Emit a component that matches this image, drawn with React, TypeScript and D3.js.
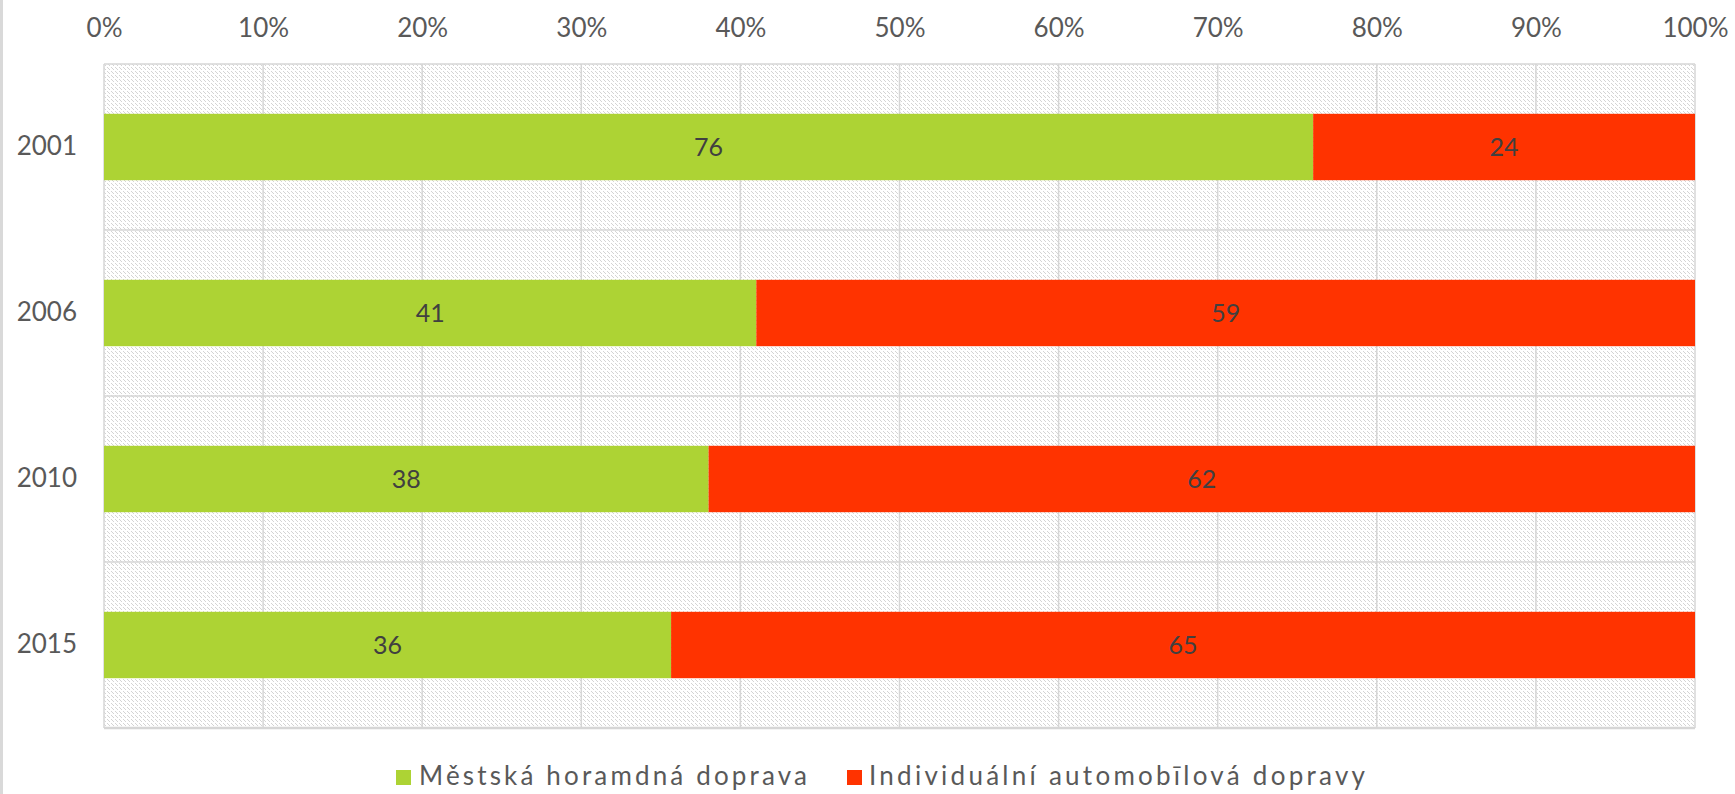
import React, { useEffect, useRef } from "react";
import * as d3 from "d3";

const years = ["2001", "2006", "2010", "2015"];
const mestska = [76, 41, 38, 36];
const individualni = [24, 59, 62, 65];
const seriesNames = ["Městská horamdná doprava", "Individuální automobīlová dopravy"];
const seriesColors = ["#add334", "#ff3300"];
const xTicks = [0, 0.1, 0.2, 0.3, 0.4, 0.5, 0.6, 0.7, 0.8, 0.9, 1];

export default function App() {
  const ref = useRef<SVGSVGElement | null>(null);

  useEffect(() => {
    const width = 1735,
      height = 794,
      left = 104,
      right = 1695,
      top = 64,
      bottom = 728;
    const font = "Lato, 'Open Sans', sans-serif";

    const svg = d3.select(ref.current).attr("width", width).attr("height", height);
    svg.selectAll("*").remove();

    // left grey strip of the frame
    svg.append("rect").attr("x", 0).attr("y", 0).attr("width", 3).attr("height", height).attr("fill", "#d9d9d9");

    // dotted diagonal background of the plot area
    const pat = svg.append("defs").append("pattern")
      .attr("id", "hatch")
      .attr("patternUnits", "userSpaceOnUse")
      .attr("width", 4)
      .attr("height", 4);
    pat.append("rect").attr("width", 4).attr("height", 4).attr("fill", "#ffffff");
    [0, 1, 3].forEach((i) => {
      pat.append("rect").attr("x", i).attr("y", i).attr("width", 1).attr("height", 1)
        .attr("fill", "#d4d4d4").attr("shape-rendering", "crispEdges");
    });

    const rows = years.map((y, i) => ({ year: y, a: mestska[i], b: individualni[i] }));
    const stacked = d3.stack<any>().keys(["a", "b"]).offset(d3.stackOffsetExpand)(rows);

    const x = d3.scaleLinear().domain([0, 1]).range([left, right]);
    const y = d3.scaleBand().domain(years).range([top, bottom]).paddingInner(0.6).paddingOuter(0.3);

    svg.append("rect")
      .attr("x", left).attr("y", top)
      .attr("width", right - left).attr("height", bottom - top)
      .attr("fill", "url(#hatch)");

    // grid
    const grid = svg.append("g").attr("stroke", "#d6d6d6").attr("stroke-width", 1.5);
    grid.selectAll("line.v").data(xTicks).enter().append("line")
      .attr("x1", (d) => x(d)).attr("x2", (d) => x(d))
      .attr("y1", top).attr("y2", bottom);
    grid.selectAll("line.h").data(d3.range(years.length + 1)).enter().append("line")
      .attr("x1", left).attr("x2", right)
      .attr("y1", (k) => top + k * y.step()).attr("y2", (k) => top + k * y.step())
      .attr("stroke-width", (k) => (k === years.length ? 2.5 : 1.5));

    // bars
    const layers = svg.append("g").selectAll("g").data(stacked).enter().append("g")
      .attr("fill", (d, i) => seriesColors[i]);
    layers.selectAll("rect").data((d) => d).enter().append("rect")
      .attr("x", (d) => x(d[0]))
      .attr("width", (d) => x(d[1]) - x(d[0]))
      .attr("y", (d) => y(d.data.year) as number)
      .attr("height", y.bandwidth());

    // data labels
    layers.selectAll("text").data((d) => d.map((p) => ({ p, key: d.key }))).enter().append("text")
      .attr("x", (d) => (x(d.p[0]) + x(d.p[1])) / 2)
      .attr("y", (d) => (y(d.p.data.year) as number) + y.bandwidth() / 2)
      .attr("dy", "0.36em")
      .attr("text-anchor", "middle")
      .attr("fill", "#404040")
      .style("font-family", font)
      .style("font-size", "25px")
      .text((d) => d.p.data[d.key]);

    // top axis
    const xAxis = svg.append("g").attr("transform", "translate(0,37)")
      .call(d3.axisTop(x).tickValues(xTicks).tickFormat(d3.format(".0%")).tickSize(0).tickPadding(0));
    xAxis.select(".domain").remove();
    xAxis.selectAll("text").attr("fill", "#595959").style("font-family", font).style("font-size", "26px");

    // category axis
    const yAxis = svg.append("g").attr("transform", `translate(${left},0)`)
      .call(d3.axisLeft(y).tickSize(0).tickPadding(27));
    yAxis.select(".domain").remove();
    yAxis.selectAll("text").attr("fill", "#595959").style("font-family", font).style("font-size", "26px");

    // legend
    const legendItems = [
      { x: 396, tx: 419, len: 388 },
      { x: 847, tx: 869, len: 496 },
    ];
    const legend = svg.append("g").selectAll("g").data(seriesNames).enter().append("g");
    legend.append("rect")
      .attr("x", (d, i) => legendItems[i].x).attr("y", 770)
      .attr("width", 15).attr("height", 15)
      .attr("fill", (d, i) => seriesColors[i]);
    legend.append("text")
      .attr("x", (d, i) => legendItems[i].tx).attr("y", 785)
      .attr("textLength", (d, i) => legendItems[i].len)
      .attr("lengthAdjust", "spacing")
      .attr("fill", "#595959")
      .style("font-family", font)
      .style("font-size", "26px")
      .text((d) => d);
  }, []);

  return <svg ref={ref} style={{ position: "absolute", left: 0, top: 0 }}></svg>;
}
